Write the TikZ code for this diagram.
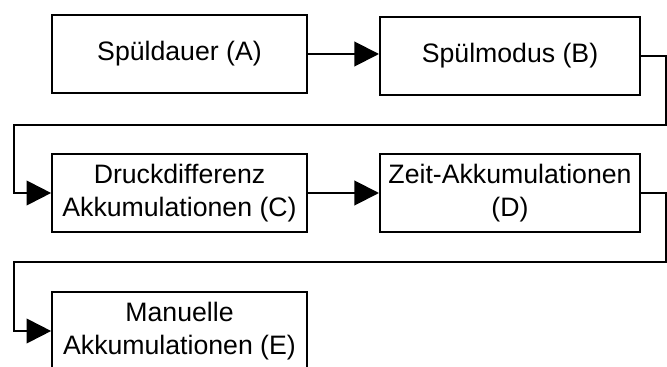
\documentclass[tikz,border=0pt]{standalone}
\usepackage{fontspec}
\setmainfont{Liberation Sans}
\usetikzlibrary{positioning, arrows.meta}

\tikzset{
  stage/.style={draw, line width=1.5pt, minimum width=191pt, minimum height=58.5pt,
    align=center, inner sep=2pt, font=\fontsize{20}{24.5}\selectfont},
  wide/.style={minimum width=195pt},
  flow/.style={line width=1.5pt, -{Triangle[length=18.5pt, width=18.5pt]}}
}

\begin{document}
\begin{tikzpicture}[x=0.75pt, y=-0.75pt]
    \useasboundingbox (0,0) rectangle (667,367);
    % Boxes
    \node[stage] (A) at (179.5,54) {Spüldauer (A)};
    \node[stage, wide] (B) at (510,56) {Spülmodus (B)};
    \node[stage] (C) at (179.5,193) {Druckdifferenz\\Akkumulationen (C)};
    \node[stage, wide] (D) at (510,193) {Zeit-Akkumulationen\\(D)};
    \node[stage] (E) at (179.5,331) {Manuelle\\Akkumulationen (E)};
    % Wendepunkte
    \coordinate (rB) at (666,125);
    \coordinate (lC) at (14,125);
    \coordinate (rD) at (666,262);
    \coordinate (lE) at (14,262);
    % Verbindungen
    \draw[flow] (A.east) -- (B.west |- A.east);
    \draw[flow] (B.east) -| (rB) -- (lC) |- (C.west);
    \draw[flow] (C.east) -- (D.west);
    \draw[flow] (D.east) -| (rD) -- (lE) |- (E.west);
\end{tikzpicture}
\end{document}
